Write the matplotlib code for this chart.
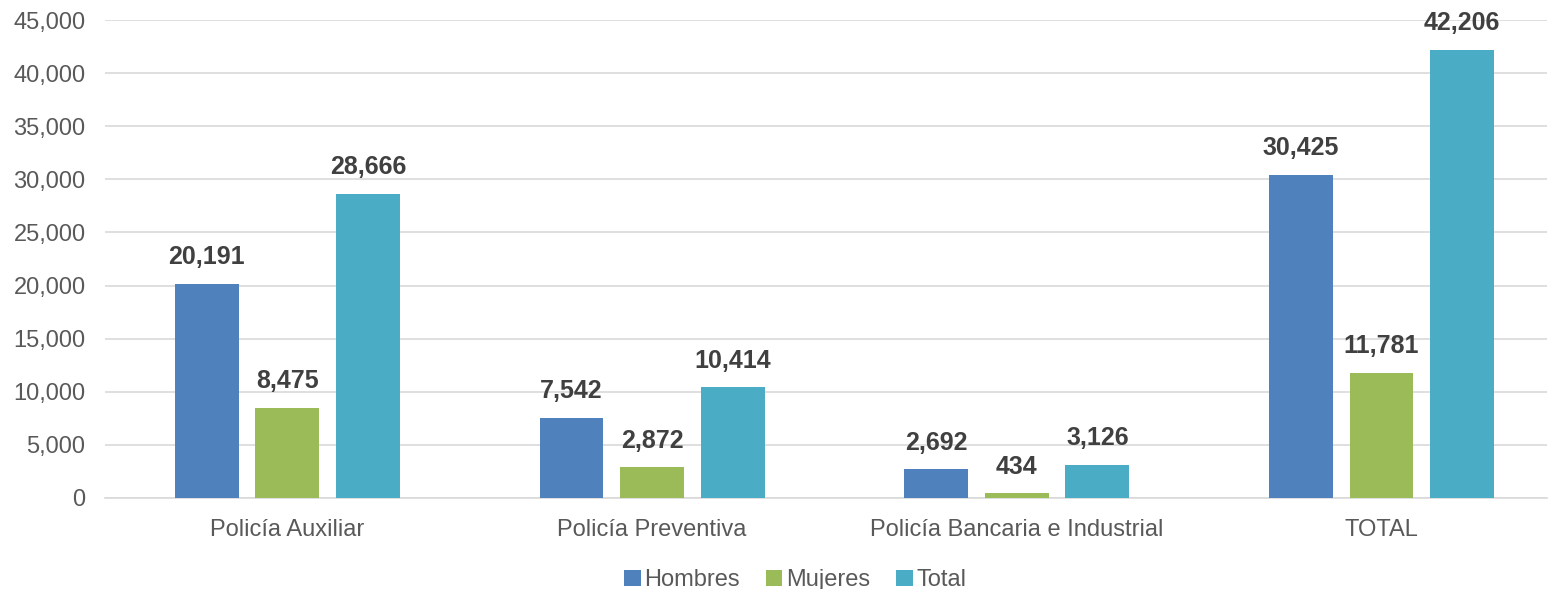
import numpy as np
import matplotlib.pyplot as plt
from matplotlib.ticker import FuncFormatter

# -- Data --
categories = ["Policía Auxiliar", "Policía Preventiva", "Policía Bancaria e Industrial", "TOTAL"]
hombres = [20191, 7542, 2692, 30425]
mujeres = [8475, 2872, 434, 11781]
total = [28666, 10414, 3126, 42206]

series = [("Hombres", hombres, "#4F81BD"),
          ("Mujeres", mujeres, "#9BBB59"),
          ("Total", total, "#4BACC6")]

plt.rcParams['font.family'] = ['Liberation Sans', 'DejaVu Sans']

fig = plt.figure(figsize=(15.56, 5.89), dpi=100)
ax = fig.add_axes([0.0675, 0.1545, 0.927, 0.8115])

x = np.arange(len(categories))
width = 0.175
step = 0.221

for i, (name, vals, col) in enumerate(series):
    pos = x + (i - 1) * step
    bars = ax.bar(pos, vals, width, color=col, label=name, zorder=3)
    for b, v in zip(bars, vals):
        ax.text(b.get_x() + b.get_width() / 2, v + 1400, f"{v:,}",
                ha='center', va='bottom', fontsize=18, fontweight='bold', color='#404040')

ax.set_xlim(-0.5, 3.455)
ax.set_ylim(0, 45000)
ax.set_yticks(np.arange(0, 45001, 5000))
ax.yaxis.set_major_formatter(FuncFormatter(lambda v, p: f"{int(v):,}"))
ax.set_xticks(x)
ax.set_xticklabels(categories)
ax.tick_params(axis='both', labelsize=17, colors='#595959', length=0)
ax.tick_params(axis='x', pad=15)
ax.tick_params(axis='y', pad=14)
ax.grid(axis='y', color='#D9D9D9', linewidth=1.2, zorder=0)

for s in ['top', 'right', 'left']:
    ax.spines[s].set_visible(False)
ax.spines['bottom'].set_color('#D9D9D9')
ax.spines['bottom'].set_linewidth(1.2)

fig.legend(*ax.get_legend_handles_labels(), loc='center', bbox_to_anchor=(0.511, 0.015),
           ncol=3, frameon=False, fontsize=17, handlelength=0.7, handleheight=0.7,
           handletextpad=0.15, columnspacing=1.1, labelcolor='#595959',
           borderpad=0, borderaxespad=0)

fig.savefig("out.png", dpi=100)
